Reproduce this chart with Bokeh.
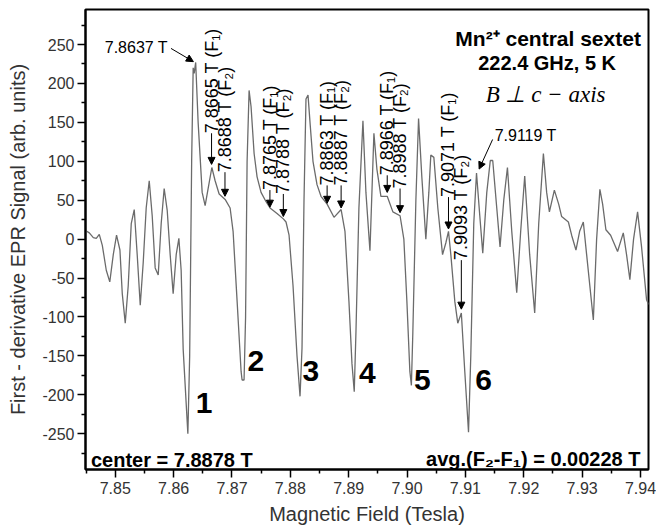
import numpy as np
from bokeh.plotting import figure
from bokeh.models import FixedTicker, Range1d, Arrow, NormalHead, Label, NumeralTickFormatter
from bokeh.core.properties import value
from bokeh.embed import file_html
from bokeh.resources import INLINE

# ---- spectrum ----
field = [7.84490, 7.84555, 7.84624, 7.84675, 7.84726, 7.84778, 7.84846, 7.84906, 7.84966, 7.85022,
         7.85080, 7.85120, 7.85171, 7.85222, 7.85274, 7.85325, 7.85376, 7.85428, 7.85479, 7.85530,
         7.85582, 7.85633, 7.85684, 7.85736, 7.85787, 7.85838, 7.85890, 7.85941, 7.85992, 7.86044,
         7.86090, 7.86129, 7.86164, 7.86244, 7.86275, 7.86309, 7.86335, 7.86352, 7.86378, 7.86420,
         7.86489, 7.86540, 7.86591, 7.86655, 7.86711, 7.86780, 7.86883, 7.86968, 7.87019, 7.87088,
         7.87156, 7.87173, 7.87207, 7.87233, 7.87259, 7.87293, 7.87327, 7.87379, 7.87430, 7.87498,
         7.87584, 7.87652, 7.87772, 7.87880, 7.87926, 7.87978, 7.88046, 7.88114, 7.88166, 7.88200,
         7.88234, 7.88268, 7.88303, 7.88337, 7.88388, 7.88457, 7.88525, 7.88630, 7.88748, 7.88870,
         7.88936, 7.89004, 7.89056, 7.89095, 7.89124, 7.89175, 7.89244, 7.89295, 7.89364, 7.89432,
         7.89483, 7.89552, 7.89660, 7.89757, 7.89880, 7.89945, 7.89997, 7.90048, 7.90074, 7.90099,
         7.90151, 7.90197, 7.90253, 7.90322, 7.90373, 7.90407, 7.90459, 7.90527, 7.90608, 7.90664,
         7.90710, 7.90750, 7.90818, 7.90869, 7.90930, 7.90989, 7.91053, 7.91092, 7.91143, 7.91190,
         7.91246, 7.91297, 7.91366, 7.91426, 7.91468, 7.91537, 7.91593, 7.91657, 7.91720, 7.91794,
         7.91879, 7.91947, 7.92016, 7.92101, 7.92187, 7.92256, 7.92336, 7.92392, 7.92439, 7.92524,
         7.92598, 7.92649, 7.92764, 7.92820, 7.92894, 7.92957, 7.93020, 7.93077, 7.93192, 7.93248,
         7.93304, 7.93351, 7.93407, 7.93488, 7.93607, 7.93705, 7.93761, 7.93818, 7.93881, 7.93950,
         7.94018, 7.94104, 7.94138]
signal = [11, 8, 2, 1, 6, -8, -40, -55, -20, 5,
          -14, -70, -108, -60, 20, 38, -20, -85, -30, 40,
          75, 30, -37, -46, 20, 65, 37, -20, -70, -20,
          1, -40, -142, -250, -150, 100, 220, 213, 227, 150,
          60, 43, 65, 92, 75, 58, 51, 40, 10, -80,
          -170, -181, -181, -100, 100, 191, 170, 110, 80, 60,
          48, 40, 33, 26, 22, 5, -60, -150, -202, -140,
          50, 180, 185, 150, 100, 70, 55, 45, 28, 38,
          10, -80, -160, -196, -120, 40, 152, 60, -15, 136,
          90, 55, 55, 35, 30, 0, -80, -170, -188, -120,
          50, 155, 80, 0, 60, 108, 105, 40, -20, -5,
          10, -20, -80, -108, -95, -170, -248, -150, 20, 85,
          30, -18, 60, 101, 101, 40, -10, 50, 92, 10,
          -69, 10, 81, -20, -95, 20, 110, 60, 35, 63,
          45, 29, 22, 5, -14, 10, 22, -20, -104, 0,
          64, 45, 12, 5, -16, 8, -20, -52, 0, 35,
          -10, -78, -84]

# ---- axes ----
x_ticks = [7.85, 7.86, 7.87, 7.88, 7.89, 7.90, 7.91, 7.92, 7.93, 7.94]
x_minor = [7.845, 7.855, 7.865, 7.875, 7.885, 7.895, 7.905, 7.915, 7.925, 7.935]
y_ticks = [-250, -200, -150, -100, -50, 0, 50, 100, 150, 200, 250]
y_minor = [-275, -225, -175, -125, -75, -25, 25, 75, 125, 175, 225, 275]

# ---- vertical F1/F2 annotations ----
ann_field = [7.8665, 7.8688, 7.8765, 7.8788, 7.8863, 7.8887, 7.8966, 7.8988, 7.9071, 7.9093]
ann_text = ["7.8665 T (F\u2081)", "7.8688 T (F\u2082)", "7.8765 T (F\u2081)", "7.8788 T (F\u2082)",
            "7.8863 T (F\u2081)", "7.8887 T (F\u2082)", "7.8966 T (F\u2081)", "7.8988 T (F\u2082)",
            "7.9071 T (F\u2081)", "7.9093 T (F\u2082)"]
ann_tip = [96, 55, 41, 29, 46, 40, 60, 34, 13, -90]
ann_base = [136, 86, 63, 58, 69, 69, 82, 65, 54, -27]

# ---- line numbers ----
num_text = ["1", "2", "3", "4", "5", "6"]
num_x = [7.86522, 7.87409, 7.88350, 7.89321, 7.90263, 7.91312]
num_y = [-211, -156, -169, -172, -181, -181]

FONT = "Liberation Sans"

p = figure(width=656, height=529, output_backend="svg", toolbar_location=None,
           x_range=Range1d(7.8449, 7.94137), y_range=Range1d(-296, 295),
           min_border_left=85, min_border_right=8, min_border_top=9, min_border_bottom=60)
p.background_fill_color = "white"
p.border_fill_color = "white"
p.outline_line_color = "black"
p.outline_line_width = 2
p.xgrid.visible = False
p.ygrid.visible = False

p.xaxis.ticker = FixedTicker(ticks=x_ticks, minor_ticks=x_minor)
p.yaxis.ticker = FixedTicker(ticks=y_ticks, minor_ticks=y_minor)
p.xaxis.formatter = NumeralTickFormatter(format="0.00")
p.yaxis.formatter = NumeralTickFormatter(format="0")

for ax in (p.xaxis[0], p.yaxis[0]):
    ax.axis_line_color = "black"
    ax.axis_line_width = 2
    ax.major_tick_line_color = "black"
    ax.major_tick_line_width = 1.5
    ax.minor_tick_line_color = "black"
    ax.minor_tick_line_width = 1.5
    ax.major_tick_in = 0
    ax.major_tick_out = 8
    ax.minor_tick_in = 0
    ax.minor_tick_out = 4
    ax.major_label_text_font = FONT
    ax.major_label_text_font_size = "16px"
    ax.major_label_text_color = "#333333"
    ax.axis_label_text_font = FONT
    ax.axis_label_text_font_style = "normal"
    ax.axis_label_text_color = "#333333"

p.xaxis.axis_label = "Magnetic Field (Tesla)"
p.xaxis.axis_label_text_font_size = "20px"
p.xaxis.major_label_standoff = 4
p.xaxis.axis_label_standoff = 6
p.yaxis.axis_label = "First - derivative EPR Signal (arb. units)"
p.yaxis.axis_label_text_font_size = "20px"
p.yaxis.major_label_standoff = 3
p.yaxis.axis_label_standoff = 10

p.line(field, signal, line_color="#6b6b6b", line_width=1.3)

# vertical annotations with arrows
p.text(x=ann_field, y=ann_base, text=ann_text, angle=np.pi / 2,
       text_align="left", text_baseline="middle",
       text_font=value(FONT), text_font_size="18px", text_color="black")
for f, b, t in zip(ann_field, ann_base, ann_tip):
    p.add_layout(Arrow(x_start=f, y_start=b, x_end=f, y_end=t, line_color="black", line_width=1,
                       end=NormalHead(size=7, fill_color="black", line_color="black")))

# diagonal labelled arrows
p.add_layout(Label(x=7.85902, y=246.5, text="7.8637 T", text_align="right", text_baseline="middle",
                   text_font=FONT, text_font_size="16px", text_color="black"))
p.add_layout(Arrow(x_start=7.85955, y_start=245, x_end=7.86339, y_end=228, line_color="black",
                   line_width=1, end=NormalHead(size=7, fill_color="black", line_color="black")))
p.add_layout(Label(x=7.91501, y=133.4, text="7.9119 T", text_align="left", text_baseline="middle",
                   text_font=FONT, text_font_size="16px", text_color="black"))
p.add_layout(Arrow(x_start=7.91466, y_start=128, x_end=7.91235, y_end=90, line_color="black",
                   line_width=1, end=NormalHead(size=7, fill_color="black", line_color="black")))

# line numbers
p.text(x=num_x, y=num_y, text=num_text, text_align="center", text_baseline="middle",
       text_font=value(FONT), text_font_size="30px", text_font_style="bold", text_color="black")

# header texts
p.add_layout(Label(x=7.92417, y=258, text="Mn\u00b2\u207a central sextet", text_align="center",
                   text_baseline="alphabetic", text_font=FONT, text_font_size="21px",
                   text_font_style="bold", text_color="black"))
p.add_layout(Label(x=7.92400, y=226, text="222.4 GHz, 5 K", text_align="center",
                   text_baseline="alphabetic", text_font=FONT, text_font_size="20px",
                   text_font_style="bold", text_color="black"))
p.add_layout(Label(x=7.92374, y=186, text="B \u22a5 c \u2212 axis", text_align="center",
                   text_baseline="alphabetic", text_font="Liberation Serif", text_font_size="23px",
                   text_font_style="italic", text_color="black"))

# footer texts
p.add_layout(Label(x=7.84584, y=-284, text="center = 7.8878 T", text_align="left",
                   text_baseline="alphabetic", text_font=FONT, text_font_size="20px",
                   text_font_style="bold", text_color="black"))
p.add_layout(Label(x=7.94, y=-282, text="avg.(F\u2082-F\u2081) = 0.00228 T", text_align="right",
                   text_baseline="alphabetic", text_font=FONT, text_font_size="20px",
                   text_font_style="bold", text_color="black"))

open("out.html", "w").write(file_html(p, INLINE))
